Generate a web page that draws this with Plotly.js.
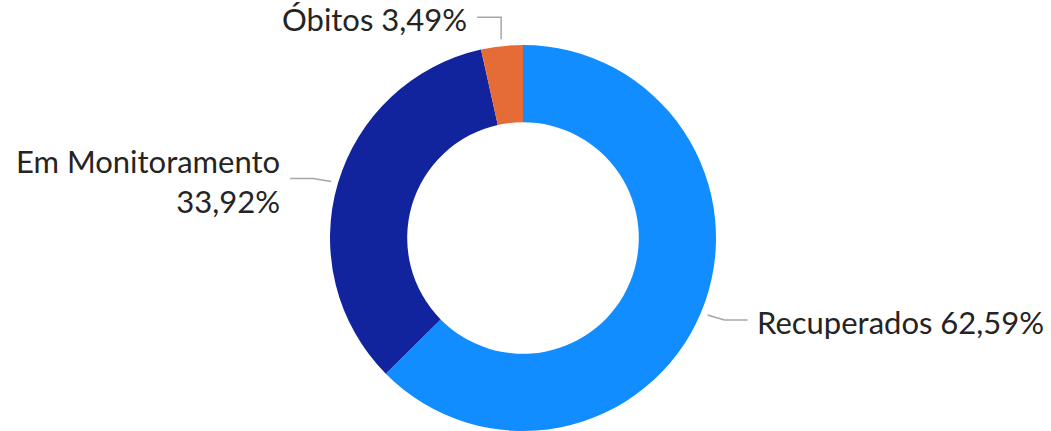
<!DOCTYPE html>
<html>
<head>
<meta charset="utf-8">
<script src="https://cdn.plot.ly/plotly-3.0.1.min.js"></script>
<style>html,body{margin:0;padding:0;background:#fff;}#chart{width:1051px;height:431px;}</style>
</head>
<body>
<div id="chart"></div>
<script>
const categories = ["Recuperados", "Em Monitoramento", "Óbitos"];
const values = [62.59, 33.92, 3.49];
const valueLabels = ["62,59%", "33,92%", "3,49%"];
const colors = ["#118DFF", "#12239E", "#E66C37"];

const W = 1051, H = 431;
const cx = 523, cy = 238, R = 193;
const px = x => x / W;
const py = y => 1 - y / H;

// label layout (elbow offset from the attach point, text side)
const labelCfg = [
  {dx1: 17, dy1: 5, dx2: 23, dy2: 0, side: "right", br: false},
  {dx1: -18, dy1: -3, dx2: -23, dy2: 0, side: "left", br: true},
  {dx1: 0, dy1: -22, dx2: -24, dy2: 0, side: "left", br: false}
];

const total = values.reduce((a, b) => a + b, 0);
const shapes = [], annotations = [];
let cum = 0;
values.forEach((v, i) => {
  const mid = (cum + v / 2) / total * 2 * Math.PI;
  cum += v;
  const ax = cx + (R + 7) * Math.sin(mid);
  const ay = cy - (R + 7) * Math.cos(mid);
  const c = labelCfg[i];
  const bx = ax + c.dx1, by = ay + c.dy1;
  const ex = bx + c.dx2, ey = by + c.dy2;
  shapes.push({
    type: "path", xref: "paper", yref: "paper",
    path: `M ${px(ax)} ${py(ay)} L ${px(bx)} ${py(by)} L ${px(ex)} ${py(ey)}`,
    line: {color: "#a6a6a6", width: 1.5}
  });
  const txt = c.br ? categories[i] + "<br>" + valueLabels[i] : categories[i] + " " + valueLabels[i];
  annotations.push({
    xref: "paper", yref: "paper",
    x: px(ex + (c.side === "right" ? 7 : -8)), y: py(ey + 2),
    xanchor: c.side === "right" ? "left" : "right", yanchor: "middle",
    align: c.side === "right" ? "left" : "right",
    text: txt, showarrow: false,
    font: {family: "Lato, 'Noto Sans', sans-serif", size: 31, color: "#252423"}
  });
});

const data = [{
  type: "pie",
  labels: categories,
  values: values,
  hole: 0.6,
  sort: false,
  direction: "clockwise",
  rotation: 0,
  textinfo: "none",
  hoverinfo: "label+percent",
  marker: {colors: colors, line: {width: 0}},
  domain: {x: [px(cx - R), px(cx + R)], y: [py(cy + R), py(cy - R)]}
}];

const layout = {
  width: W, height: H,
  margin: {l: 0, r: 0, t: 0, b: 0},
  showlegend: false,
  paper_bgcolor: "#fff",
  shapes: shapes,
  annotations: annotations
};

Plotly.newPlot("chart", data, layout, {displayModeBar: false, staticPlot: true});
</script>
</body>
</html>
